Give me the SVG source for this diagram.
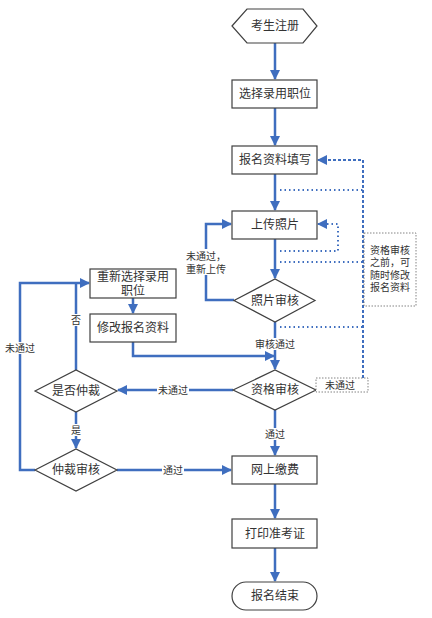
<svg xmlns="http://www.w3.org/2000/svg" width="432" height="618" viewBox="0 0 432 618">
<style>
.n{fill:#fff;stroke:#404040;stroke-width:1.2}
.t{font-family:"Liberation Serif","Noto Sans CJK SC",serif;font-size:12px;fill:#333;text-anchor:middle}
.l{font-family:"Liberation Serif","Noto Sans CJK SC",serif;font-size:10px;fill:#333;text-anchor:middle}
.c{fill:none;stroke:#3F6EBF;stroke-width:2.5}
.dash{fill:none;stroke:#3F6EBF;stroke-width:2;stroke-dasharray:3 2}
.dot{fill:none;stroke:#3F6EBF;stroke-width:2;stroke-dasharray:1.5 3}
.bg{fill:#fff}
</style>
<defs>
<marker id="ah" viewBox="0 0 10 10" refX="9" refY="5" markerWidth="10" markerHeight="10" markerUnits="userSpaceOnUse" orient="auto"><path d="M0,0 L10,5 L0,10 z" fill="#3F6EBF"/></marker>
</defs>
<rect width="432" height="618" fill="#fff"/>
<g id="connectors">
<path class="c" d="M275,43 V79" marker-end="url(#ah)"/>
<path class="c" d="M275,108 V145" marker-end="url(#ah)"/>
<path class="c" d="M275,174 V210" marker-end="url(#ah)"/>
<path class="c" d="M275,239 V278" marker-end="url(#ah)"/>
<path class="c" d="M234,300 H206 V224 H231" marker-end="url(#ah)"/>
<path class="c" d="M275,322 V369" marker-end="url(#ah)"/>
<path class="c" d="M133,298 V313" marker-end="url(#ah)"/>
<path class="c" d="M133,342 V356 H274" marker-end="url(#ah)"/>
<path class="c" d="M233,390 H118" marker-end="url(#ah)"/>
<path class="c" d="M76,370 V283"/>
<path class="c" d="M35,470 H20 V283 H89" marker-end="url(#ah)"/>
<path class="c" d="M76,412 V448" marker-end="url(#ah)"/>
<path class="c" d="M117,470 H231" marker-end="url(#ah)"/>
<path class="c" d="M275,410 V455" marker-end="url(#ah)"/>
<path class="c" d="M275,484 V518" marker-end="url(#ah)"/>
<path class="c" d="M275,548 V581" marker-end="url(#ah)"/>
<path class="dash" d="M363,388 V160 H318" marker-end="url(#ah)"/>
<path class="dot" d="M280,190 H363"/>
<path class="dot" d="M280,251 H338 V224 H318" marker-end="url(#ah)"/>
<path class="dot" d="M280,262 H363"/>
<path class="dot" d="M280,327 H363"/>
<rect class="bg" x="185" y="249" width="42" height="26"/>
<text class="l" x="206" y="260">未通过，</text>
<text class="l" x="206" y="273">重新上传</text>
<rect class="bg" x="253" y="338" width="44" height="12"/>
<text class="l" x="275" y="348">审核通过</text>
<rect class="bg" x="157" y="384" width="32" height="12"/>
<text class="l" x="173" y="394">未通过</text>
<rect class="bg" x="69" y="314" width="14" height="12"/>
<text class="l" x="76" y="324">否</text>
<rect class="bg" x="69" y="424" width="14" height="12"/>
<text class="l" x="76" y="434">是</text>
<rect class="bg" x="5" y="342" width="30" height="12"/>
<text class="l" x="20" y="352">未通过</text>
<rect class="bg" x="162" y="464" width="22" height="12"/>
<text class="l" x="173" y="474">通过</text>
<rect class="bg" x="264" y="428" width="22" height="12"/>
<text class="l" x="275" y="438">通过</text>
</g>
<g id="start"><polygon class="n" points="232,26 247,9 303,9 317,26 303,43 247,43"/><text class="t" x="275" y="30">考生注册</text></g>
<g id="select"><rect class="n" x="232" y="80" width="85" height="28"/><text class="t" x="275" y="98">选择录用职位</text></g>
<g id="fill"><rect class="n" x="232" y="146" width="85" height="28"/><text class="t" x="275" y="164">报名资料填写</text></g>
<g id="upload"><rect class="n" x="232" y="211" width="85" height="28"/><text class="t" x="275" y="229">上传照片</text></g>
<g id="photoCheck"><polygon class="n" points="234,300.5 275,279 315,300.5 275,322"/><text class="t" x="275" y="305">照片审核</text></g>
<g id="qualCheck"><polygon class="n" points="233,390 275,370 316,390 275,410"/><text class="t" x="275" y="394">资格审核</text></g>
<g id="note"><rect x="364" y="233" width="52" height="73" fill="#fff" stroke="#666" stroke-width="0.8" stroke-dasharray="1.5 1.5"/>
<text class="l" x="390" y="254">资格审核</text><text class="l" x="390" y="266">之前，可</text><text class="l" x="390" y="279">随时修改</text><text class="l" x="390" y="291">报名资料</text></g>
<g id="failNote"><rect x="316" y="378" width="52" height="14" fill="#fff" stroke="#666" stroke-width="0.8" stroke-dasharray="1.5 1.5"/><text class="l" x="340" y="389">未通过</text></g>
<g id="reselect"><rect class="n" x="90" y="269" width="86" height="29"/><text class="t" x="133" y="281">重新选择录用</text><text class="t" x="133" y="295">职位</text></g>
<g id="modify"><rect class="n" x="90" y="314" width="86" height="28"/><text class="t" x="133" y="332">修改报名资料</text></g>
<g id="arbitrate"><polygon class="n" points="35,391 76,370 117,391 76,412"/><text class="t" x="76" y="395">是否仲裁</text></g>
<g id="arbCheck"><polygon class="n" points="35,470 76,449 117,470 76,491"/><text class="t" x="76" y="474">仲裁审核</text></g>
<g id="pay"><rect class="n" x="232" y="456" width="85" height="28"/><text class="t" x="275" y="474">网上缴费</text></g>
<g id="print"><rect class="n" x="232" y="519" width="85" height="29"/><text class="t" x="275" y="538">打印准考证</text></g>
<g id="end"><rect class="n" x="232" y="582" width="85" height="28" rx="14"/><text class="t" x="275" y="600">报名结束</text></g>
</svg>
